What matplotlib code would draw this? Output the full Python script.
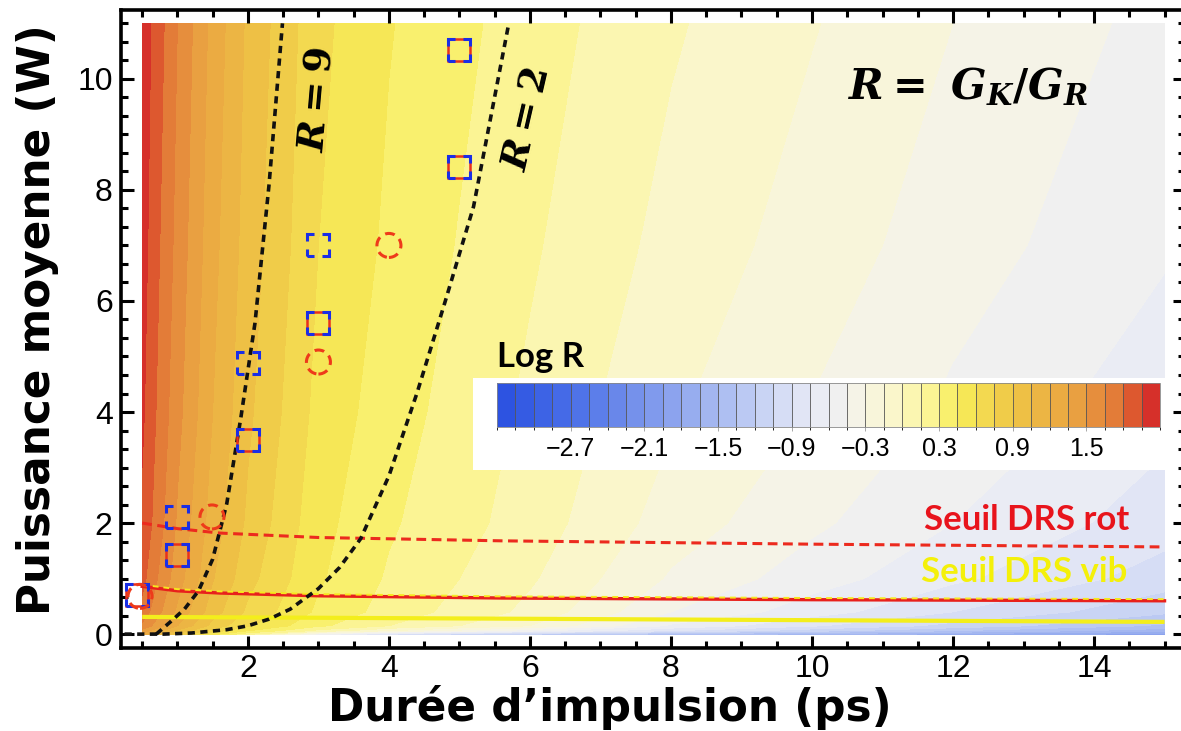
import numpy as np
import matplotlib
matplotlib.use('Agg')
import matplotlib.pyplot as plt
from matplotlib.colors import LinearSegmentedColormap, ListedColormap, BoundaryNorm
from matplotlib.patches import Rectangle, Circle
from matplotlib.transforms import Affine2D, ScaledTranslation
import matplotlib.ticker as mticker

plt.rcParams['mathtext.fontset'] = 'custom'
plt.rcParams['mathtext.it'] = 'DejaVu Serif:italic:bold'
plt.rcParams['mathtext.rm'] = 'DejaVu Serif:bold'
plt.rcParams['mathtext.bf'] = 'DejaVu Serif:bold'

# ---------------- data ----------------
tau_nodes = [0.5, 0.75, 1, 1.5, 2, 3, 4, 5, 6, 8, 10, 12, 15]
power_nodes = [0.0, 0.06, 0.15, 0.4, 1, 2, 4, 7, 11]
logR_p000 = [1.30, 1.05, 0.85, 0.50, 0.20, -0.50, -0.90, -1.10, -1.20, -1.40, -1.55, -1.70, -1.85]
logR_p006 = [1.45, 1.22, 1.02, 0.68, 0.45, 0.10, -0.15, -0.35, -0.55, -0.90, -1.15, -1.35, -1.60]
logR_p015 = [1.62, 1.40, 1.20, 0.85, 0.62, 0.33, 0.15, 0.00, -0.15, -0.62, -0.88, -1.10, -1.38]
logR_p040 = [1.75, 1.52, 1.32, 0.97, 0.72, 0.42, 0.24, 0.10, -0.04, -0.45, -0.68, -0.90, -1.17]
logR_p100 = [1.85, 1.62, 1.42, 1.06, 0.80, 0.47, 0.28, 0.15, 0.02, -0.32, -0.53, -0.72, -0.97]
logR_p200 = [1.92, 1.70, 1.48, 1.13, 0.87, 0.50, 0.32, 0.20, 0.08, -0.22, -0.42, -0.60, -0.83]
logR_p400 = [1.98, 1.75, 1.55, 1.20, 0.93, 0.55, 0.37, 0.24, 0.12, -0.13, -0.31, -0.48, -0.70]
logR_p700 = [2.02, 1.80, 1.60, 1.25, 0.98, 0.60, 0.42, 0.29, 0.17, -0.05, -0.22, -0.38, -0.58]
logR_p1100 = [2.05, 1.85, 1.65, 1.30, 1.02, 0.64, 0.46, 0.34, 0.22, 0.02, -0.14, -0.30, -0.50]

# iso-R curves
r9_tau = [0.70, 0.90, 1.10, 1.30, 1.50, 1.70, 1.90, 2.10, 2.30, 2.49]
r9_P = [0.00, 0.22, 0.45, 0.78, 1.35, 2.35, 3.90, 5.60, 8.10, 11.0]
r2_tau = [0.25, 0.8, 1.2, 1.7, 2.0, 2.3, 2.6, 3.0, 3.3, 3.6, 4.0, 4.4, 4.8, 5.2, 5.7]
r2_P = [0.0, 0.0, 0.02, 0.08, 0.15, 0.27, 0.45, 0.82, 1.2, 1.72, 2.85, 4.35, 6.0, 7.7, 11.0]

# thresholds
thr_tau = [0.5, 1.0, 1.6, 3, 5.6, 10, 15]
rot_dashed_P = [2.0, 1.9, 1.82, 1.74, 1.68, 1.62, 1.57]
rot_solid_P = [0.86, 0.78, 0.74, 0.69, 0.65, 0.62, 0.60]
vib_tau = [0.5, 15]
vib_P = [0.31, 0.22]

# experimental points
sq_blue_tau = [3, 2, 1]
sq_blue_P = [7.0, 4.88, 2.11]
sq_mixed_tau = [3, 2, 1, 0.42, 5, 5]
sq_mixed_P = [5.6, 3.5, 1.42, 0.70, 8.42, 10.52]
circ_tau = [4, 3, 1.49, 0.47]
circ_P = [7.0, 4.9, 2.11, 0.68]

cbar_ticks = [-2.7, -2.1, -1.5, -0.9, -0.3, 0.3, 0.9, 1.5]
cbar_labels = ['−2.7', '−2.1', '−1.5', '−0.9', '−0.3', '0.3', '0.9', '1.5']
levels = np.round(np.arange(-3.3, 2.1001, 0.15), 3)

# ---------------- colormap ----------------
anchors = [(-3.3, '#2a50e0'), (-2.7, '#4a6fe8'), (-2.1, '#7b96ec'), (-1.5, '#a9bbf1'),
           (-0.9, '#dce2f6'), (-0.6, '#eeeff4'), (-0.3, '#f7f5e2'), (0.0, '#fbf7c2'),
           (0.3, '#fbf388'), (0.45, '#f8ee5a'), (0.9, '#efc646'), (1.5, '#e89a40'),
           (1.8, '#e27436'), (1.875, '#de5e30'), (1.95, '#d83a2c'), (2.1, '#d42828')]
lo, hi = -3.3, 2.1
base = LinearSegmentedColormap.from_list(
    'lr', [((v - lo) / (hi - lo), c) for v, c in anchors])
centers = (levels[:-1] + levels[1:]) / 2
cmap = ListedColormap([base((c - lo) / (hi - lo)) for c in centers])
norm = BoundaryNorm(levels, cmap.N)

# ---------------- figure ----------------
W, H = 1181, 731
fig = plt.figure(figsize=(W / 100, H / 100), dpi=100)
ax = fig.add_axes([121 / W, (H - 648) / H, 1064 / W, 638 / H])

Z = np.array([logR_p000, logR_p006, logR_p015, logR_p040, logR_p100,
              logR_p200, logR_p400, logR_p700, logR_p1100])
cs = ax.contourf(tau_nodes, power_nodes, Z, levels=levels, cmap=cmap, norm=norm, zorder=1)

# threshold lines
ax.plot(vib_tau, vib_P, color='#f3ee1c', lw=3.0, zorder=3, solid_capstyle='butt')
ax.plot(thr_tau, rot_solid_P, color='#e8201c', lw=2.4, zorder=3)
ax.plot(thr_tau, [p + 0.03 for p in rot_solid_P], color='#f6e81e', lw=1.4,
        linestyle=(0, (3, 2.5)), zorder=4)
ax.plot(thr_tau, rot_dashed_P, color='#ec2a1e', lw=2.2, linestyle=(0, (3.2, 1.8)), zorder=3)

# iso-R curves
ax.plot(r9_tau, r9_P, color='#111111', lw=2.6, linestyle=(0, (2.0, 1.5)), zorder=4)
ax.plot(r2_tau, r2_P, color='#111111', lw=2.6, linestyle=(0, (2.0, 1.5)), zorder=4)


def marker(x, y, kind, color, ls, lw=2.2, z=6):
    if kind == 'square':
        p = Rectangle((-11, -11), 22, 22)
    else:
        p = Circle((0, 0), 12)
    p.set_transform(Affine2D() + ScaledTranslation(x, y, ax.transData))
    p.set_facecolor('none')
    p.set_edgecolor(color)
    p.set_linewidth(lw)
    p.set_linestyle(ls)
    p.set_zorder(z)
    p.set_clip_on(False)
    ax.add_patch(p)


sq_dash = (2.3, (4.6, 2.6))
for x, y in zip(sq_blue_tau, sq_blue_P):
    marker(x, y, 'square', '#1a2ee6', sq_dash)
for x, y in zip(sq_mixed_tau, sq_mixed_P):
    marker(x, y, 'square', '#e8301c', '-', lw=1.8, z=5)
    marker(x, y, 'square', '#1a2ee6', sq_dash)
for x, y in zip(circ_tau, circ_P):
    marker(x, y, 'circle', '#ee3a1a', (0, (3.2, 2.0)))

ax.set_xlim(0.20, 15.29)
ax.set_ylim(-0.25, 11.24)
ax.set_xticks([2, 4, 6, 8, 10, 12, 14])
ax.set_yticks([0, 2, 4, 6, 8, 10])
ax.xaxis.set_minor_locator(mticker.MultipleLocator(0.5))
ax.yaxis.set_minor_locator(mticker.MultipleLocator(1 / 3))
ax.tick_params(which='both', direction='in', top=True, right=True, width=2.2, color='black')
ax.tick_params(which='major', length=9, labelsize=23)
ax.tick_params(which='minor', length=5)
ax.tick_params(axis='x', which='major', pad=4.5)
ax.tick_params(axis='y', which='major', pad=6)
for lab in ax.get_xticklabels() + ax.get_yticklabels():
    lab.set_family('Liberation Sans')
for s in ax.spines.values():
    s.set_linewidth(2.6)

# rotated labels on curves
ax.text(2.98, 9.62, r'$R=9$', rotation=85, ha='center', va='center', fontsize=27, zorder=7)
ax.text(5.96, 9.26, r'$R=2$', rotation=77, ha='center', va='center', fontsize=27, zorder=7)

# text annotations (figure coords)
fig.text(968 / W, 1 - 87 / H, r'$R=\ G_K/G_R$', ha='center', va='center', fontsize=30)
fig.text(1027 / W, 1 - 520 / H, 'Seuil DRS rot', color='#e8141c', fontsize=25,
         fontweight='bold', family='Lato', ha='center', va='center')
fig.text(1024 / W, 1 - 572 / H, 'Seuil DRS vib', color='#f4f00a', fontsize=25,
         fontweight='bold', family='Lato', ha='center', va='center')

# axis labels
fig.text(610 / W, 1 - 707 / H, 'Durée d’impulsion (ps)', fontsize=31.5, fontweight='bold',
         family='DejaVu Sans', ha='center', va='center')
fig.text(38 / W, 1 - 320 / H, 'Puissance moyenne (W)', fontsize=31.5, fontweight='bold',
         family='DejaVu Sans', ha='center', va='center', rotation=90)

# colorbar with white box
box = Rectangle((473 / W, 1 - 470 / H), 695 / W, 92 / H, transform=fig.transFigure,
                facecolor='white', edgecolor='none', zorder=2)
fig.patches.append(box)
cax = fig.add_axes([497 / W, 1 - 427 / H, 663 / W, 44 / H])
cax.set_zorder(3)
cb = fig.colorbar(cs, cax=cax, orientation='horizontal', ticks=cbar_ticks, drawedges=True)
cb.dividers.set_color('#555555')
cb.dividers.set_linewidth(0.6)
cb.outline.set_edgecolor('#888888')
cb.outline.set_linewidth(0.6)
cax.tick_params(length=3, width=0.6, color='#999999', labelsize=18, pad=4)
cax.set_xticklabels(cbar_labels)
for lab in cax.get_xticklabels():
    lab.set_family('Liberation Sans')
fig.text(497 / W, 1 - 357 / H, 'Log R', fontsize=25, fontweight='bold', family='Lato',
         ha='left', va='center', zorder=4)

fig.savefig('out.png', dpi=100)
